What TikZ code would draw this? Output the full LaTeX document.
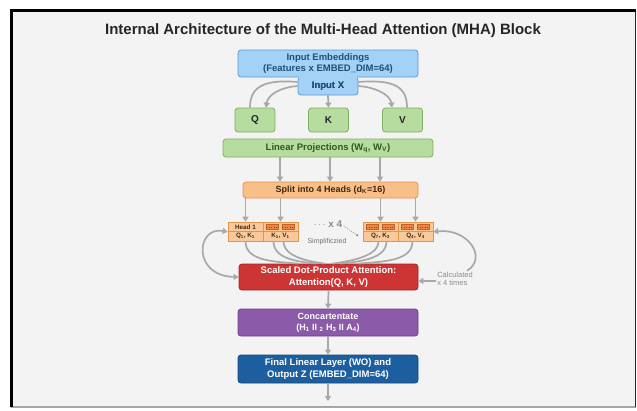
\documentclass[tikz,border=0pt]{standalone}
\usepackage{fontspec}
\setmainfont{Liberation Sans}
\usetikzlibrary{arrows.meta,calc}
\definecolor{bgc}{HTML}{F3F3F3}
\definecolor{arrc}{HTML}{A8A8A8}
\definecolor{embf}{HTML}{A3D2F6}
\definecolor{embd}{HTML}{5A9BD5}
\definecolor{embt}{HTML}{1F4E79}
\definecolor{grf}{HTML}{B7DCA0}
\definecolor{grd}{HTML}{7DB062}
\definecolor{grt}{HTML}{2C5A1C}
\definecolor{orf}{HTML}{F9BF88}
\definecolor{ord}{HTML}{E5944E}
\definecolor{ort}{HTML}{3E2612}
\definecolor{hdf}{HTML}{FAC99A}
\definecolor{hdm}{HTML}{EE8544}
\definecolor{hdd}{HTML}{C8602A}
\definecolor{redf}{HTML}{CD3535}
\definecolor{redd}{HTML}{A02626}
\definecolor{purf}{HTML}{8B5AA8}
\definecolor{purd}{HTML}{6C4090}
\definecolor{bluf}{HTML}{1D5E9E}
\definecolor{blud}{HTML}{134A84}
\definecolor{txtg}{HTML}{8C8C8C}
\begin{document}
\begin{tikzpicture}[x=1pt,y=-1pt,
  box/.style={rectangle, rounded corners=3pt, draw, line width=0.8pt, inner sep=0pt, align=center},
  arr/.style={draw=arrc, line width=1.7pt, -{Triangle[length=5pt,width=6pt]}},
  plainline/.style={draw=arrc, line width=1.7pt},
  cell/.style={rectangle, draw=ord, fill=hdf, line width=0.6pt, inner sep=0pt, minimum width=35pt, minimum height=9.5pt, text=ort, font=\bfseries\fontsize{6.3}{7}\selectfont},
  chip/.style={rectangle, draw=hdd, fill=hdm, line width=0.4pt, inner sep=0pt, minimum width=12pt, minimum height=5pt}
]
\useasboundingbox (0,0) rectangle (637,410);
\fill[white] (0,0) rectangle (637,410);
\fill[bgc] (11,10) rectangle (636,407);
\draw[gray!70, line width=1.2pt] (11,407) -- (636,407);
\draw[black!85, line width=1.2pt] (635.4,10) -- (635.4,407);
\draw[black, line width=3pt] (11.5,407) -- (11.5,10.5) -- (636,10.5);

% title
\node[text=black!85, font=\bfseries\fontsize{15}{18}\selectfont] (title) at (323,31) {Internal Architecture of the Multi-Head Attention (MHA) Block};

% input embeddings and tab
\node[box, fill=embf, draw=embd, minimum width=180pt, minimum height=27pt, text=embt, font=\bfseries\fontsize{9.5}{11.5}\selectfont] (emb) at (328,63.5) {Input Embeddings\\(Features x EMBED\_DIM=64)};
\node[box, fill=embf, draw=embd, minimum width=60pt, minimum height=18pt, text=embt, font=\bfseries\fontsize{9.5}{11}\selectfont] (inx) at (328,86) {Input X};
\fill[embf] (299,75.5) rectangle (357,79);
\node[text=embt, font=\bfseries\fontsize{9.5}{11}\selectfont] at (inx) {Input X};

% Q K V
\tikzset{qkv/.style={box, fill=grf, draw=grd, minimum width=40pt, minimum height=24pt, text=black!85, font=\bfseries\fontsize{10}{12}\selectfont}}
\node[qkv] (Q) at (255,120) {Q};
\node[qkv] (K) at (328.5,120) {K};
\node[qkv] (V) at (402.5,120) {V};

\draw[arr] (inx.south) -- (K.north);
\draw[arr] (inx.west) .. controls (282,87) and (268,94) .. ([xshift=11pt]Q.north);
\draw[plainline] ([yshift=4pt]inx.west) .. controls (262,79) and (250,88) .. ([xshift=-5pt]Q.north);
\draw[arr] (inx.east) .. controls (374,87) and (390,94) .. ([xshift=-10.5pt]V.north);
\draw[plainline] ([yshift=4pt]inx.east) .. controls (396,79) and (407,88) .. ([xshift=4.5pt]V.north);

% linear projections
\node[box, fill=grf, draw=grd, minimum width=210pt, minimum height=18pt, text=grt, font=\bfseries\fontsize{9.5}{11}\selectfont] (lin) at (328,148) {Linear Projections (W\textsubscript{q}, W\textsubscript{V})};

% split
\node[box, fill=orf, draw=ord, minimum width=175pt, minimum height=16pt, text=ort, font=\bfseries\fontsize{9}{11}\selectfont] (split) at (330.5,190) {Split into 4 Heads (d\textsubscript{K}=16)};

\foreach \dx in {-48,2,52}{
  \draw[arr] ([xshift=\dx pt]lin.south) -- ([xshift=\dx pt]lin.south |- split.north);
}

% heads
\node[cell] (c1t) at (245.5,226.75) {Head 1};
\node[cell] (c1b) at (245.5,236.25) {Q\textsubscript{1}, K\textsubscript{1}};
\node[cell] (c2t) at (280.5,226.75) {};
\node[cell] (c2b) at (280.5,236.25) {K\textsubscript{1}, V\textsubscript{1}};
\node[cell] (c3t) at (380.5,226.75) {};
\node[cell] (c3b) at (380.5,236.25) {Q\textsubscript{7}, K\textsubscript{3}};
\node[cell] (c4t) at (415.5,226.75) {};
\node[cell] (c4b) at (415.5,236.25) {Q\textsubscript{4}, V\textsubscript{4}};
\foreach \c in {c2t,c3t,c4t}{
  \node[chip] (\c l) at ([xshift=-8pt]\c.center) {};
  \node[chip] (\c r) at ([xshift=8pt]\c.center) {};
  \draw[hdd!70!black, line width=0.5pt, dash pattern=on 1pt off 1.5pt] (\c l.west) -- (\c l.east);
  \draw[hdd!70!black, line width=0.5pt, dash pattern=on 1pt off 1.5pt] (\c r.west) -- (\c r.east);
}
\foreach \c in {c1t,c2t,c3t,c4t}{
  \draw[arr] (split.south -| \c.north) -- (\c.north);
}

\node[text=txtg, font=\bfseries\fontsize{10}{12}\selectfont] (dots) at (328,224) {$\cdots$ x 4};
\draw[txtg, line width=0.6pt, dash pattern=on 1pt off 1.2pt, -{Latex[length=2.5pt,width=2.5pt]}] ([xshift=-2pt,yshift=-2pt]dots.east) -- ([xshift=-4pt]c3b.west);
\node[text=txtg!80!black, font=\fontsize{7}{8}\selectfont] (simp) at (327,242) {Simplificzied};

% attention
\node[box, fill=redf, draw=redd, minimum width=179pt, minimum height=26pt, text=white, font=\bfseries\fontsize{9.5}{11.5}\selectfont] (attn) at (328.5,277) {Scaled Dot-Product Attention:\\Attention(Q, K, V)};

% curves into attention
\draw[plainline] (c1b.south) .. controls +(0,20) and +(-24,-2) .. ([xshift=-30pt]attn.north);
\draw[plainline] ([xshift=-7pt]c2b.south) .. controls +(0,18) and +(-18,-2) .. ([xshift=-12pt]attn.north);
\draw[plainline] ([xshift=3pt]c2b.south) .. controls +(0,16) and +(-14,-2) .. ([xshift=-4pt]attn.north);
\draw[plainline] ([xshift=-2pt]c3b.south) .. controls +(0,16) and +(14,-2) .. ([xshift=4pt]attn.north);
\draw[plainline] ([xshift=6pt]c3b.south) .. controls +(0,18) and +(18,-2) .. ([xshift=12pt]attn.north);
\draw[plainline] ([xshift=-3pt]c4b.south) .. controls +(0,20) and +(24,-2) .. ([xshift=30pt]attn.north);

% left loop
\draw[draw=arrc, line width=1.7pt, {Triangle[length=5pt,width=6pt]}-{Triangle[length=5pt,width=6pt]}] (c1t.south west) .. controls (196,226) and (192,276) .. (attn.west);

% calculated note
\node[text=txtg, font=\fontsize{7.5}{8.5}\selectfont, align=left, inner sep=1pt] (calc) at (455,279) {Calculated\\x 4 times};
\draw[arr] ([yshift=-2pt]calc.west) -- ([yshift=-2pt]calc.west -| attn.east);
\draw[arr] ([xshift=12pt]calc.north) .. controls (488,258) and (468,228) .. (c4t.south east);

% concat
\node[box, fill=purf, draw=purd, minimum width=180pt, minimum height=27pt, text=white, font=\bfseries\fontsize{9}{11}\selectfont] (conc) at (328,322.5) {Concartentate\\(H\textsubscript{1} II \textsubscript{2} H\textsubscript{3} II A\textsubscript{4})};

% final
\node[box, fill=bluf, draw=blud, minimum width=180pt, minimum height=28pt, text=white, font=\bfseries\fontsize{9.5}{11.5}\selectfont] (fin) at (328,369) {Final Linear Layer (WO) and\\Output Z (EMBED\_DIM=64)};
\coordinate (out) at (328,401);

\draw[arr] (attn.south) -- (conc.north);
\draw[arr] (conc.south) -- (fin.north);
\draw[arr] (fin.south) -- (out);
\end{tikzpicture}
\end{document}
